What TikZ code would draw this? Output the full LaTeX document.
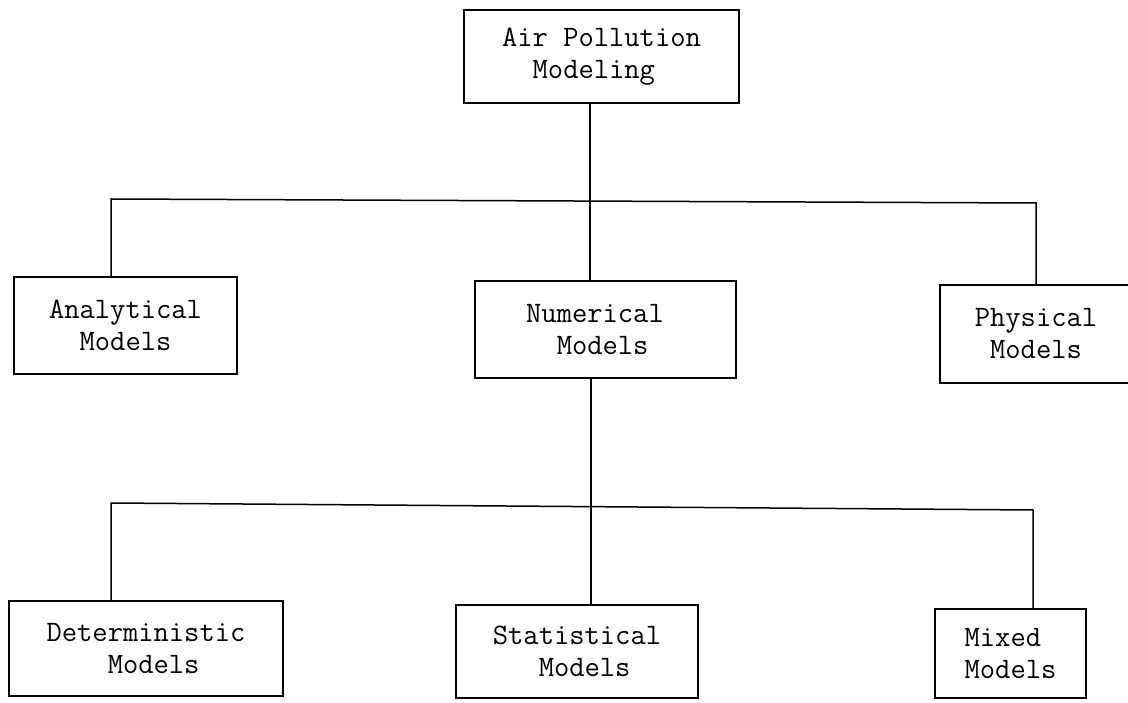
\documentclass[tikz,border=0pt]{standalone}
\usepackage{fontspec}
\begin{document}
\begin{tikzpicture}[x=1pt,y=-1pt,
  modelbox/.style={draw, line width=1.5pt, inner sep=0pt, align=left,
    font=\ttfamily\fontsize{29.7}{32}\selectfont},
  link/.style={line width=1.5pt}]
\useasboundingbox (0,0) rectangle (1128,703);
\clip (0,0) rectangle (1128,703);
\node[modelbox, minimum width=275, minimum height=93] (top) at (601.5,56.5)
  {Air Pollution\\\phantom{MM}Modeling};
\node[modelbox, minimum width=223, minimum height=97] (ana) at (125.5,325.5)
  {Analytical\\\phantom{MM}Models};
\node[modelbox, minimum width=261, minimum height=97] (num) at (605.5,329.5)
  {Numerical\hspace*{21pt}\\\phantom{MM}Models};
\node[modelbox, minimum width=192, minimum height=98] (phys) at (1036,334)
  {Physical\\\phantom{M}Models};
\node[modelbox, minimum width=274, minimum height=95] (det) at (146,648.5)
  {Deterministic\\\phantom{MMMM}Models};
\node[modelbox, minimum width=242, minimum height=93] (stat) at (577,651.5)
  {Statistical\\\phantom{MMM}Models};
\node[modelbox, minimum width=151, minimum height=89] (mix) at (1010.5,653.5)
  {Mixed\\Models};
\coordinate (j1) at (590,200);
\coordinate (bl) at (111,199);
\coordinate (br) at (1036,203);
\coordinate (j2) at (591,506);
\coordinate (cl) at (111,503);
\coordinate (cr) at (1033,510);
\draw[link] (top.south -| j1) -- (num.north -| j1);
\draw[link] (bl |- ana.north) -- (bl) -- (br) -- (br |- phys.north);
\draw[link] (num.south -| j2) -- (stat.north -| j2);
\draw[link] (cl |- det.north) -- (cl) -- (cr) -- (cr |- mix.north);
\end{tikzpicture}
\end{document}
